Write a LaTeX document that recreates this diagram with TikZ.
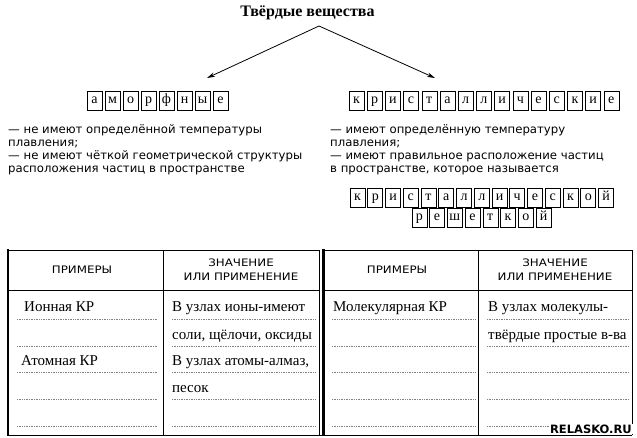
\documentclass[tikz,border=0pt]{standalone}
\usepackage{fontspec}
\setmainfont{Liberation Serif}
\newfontfamily\sansf{DejaVu Sans}
\newfontfamily\hdrf[FakeStretch=1.15]{DejaVu Sans}
\newfontfamily\wmf{DejaVu Sans}
\usetikzlibrary{arrows.meta}
\tikzset{
  lbox/.style={draw, line width=0.6pt, minimum width=15pt, minimum height=19pt, inner sep=0pt,
    text height=9pt, text depth=3pt, font=\fontsize{14}{14}\selectfont},
  body/.style={anchor=base west, inner sep=0pt, font=\sansf\fontsize{11.7}{13}\selectfont},
  hdr/.style={anchor=base, inner sep=0pt, font=\hdrf\fontsize{10.3}{12}\selectfont},
  cell/.style={anchor=base west, inner sep=0pt, font=\fontsize{15}{15}\selectfont},
  rule/.style={line width=0.7pt},
  heavy/.style={line width=2.4pt},
  dots/.style={line width=0.6pt, gray, dash pattern=on 0.7pt off 1pt},
  arr/.style={line width=0.8pt, -{Stealth[length=8pt,width=4.5pt]}}
}
\newcommand\letterrow[5]{%
  \foreach \l [count=\i] in {#5} {
    \node[lbox] (#1\i) at ({#2+(\i-1)*#4}, #3) {\l};
  }%
}
\begin{document}
\begin{tikzpicture}[x=1pt,y=-1pt]
\useasboundingbox (0,0) rectangle (637,438);

% title and arrows
\node[inner sep=0pt, font=\bfseries\fontsize{16}{16}\selectfont] (title) at (307.5,13) {Твёрдые вещества};
\coordinate (apex) at (319,26);
\coordinate (ltip) at (207,78);
\coordinate (rtip) at (435,78);
\draw[arr] (apex) -- (ltip);
\draw[arr] (apex) -- (rtip);

% letter rows
\letterrow{am}{94.5}{101}{18}{а,м,о,р,ф,н,ы,е}
\letterrow{kr}{356.5}{101}{18.2}{к,р,и,с,т,а,л,л,и,ч,е,с,к,и,е}
\letterrow{kl}{357.5}{198}{17.75}{к,р,и,с,т,а,л,л,и,ч,е,с,к,о,й}
\letterrow{rs}{419.3}{218}{17.75}{р,е,ш,е,т,к,о,й}

% descriptions
\node[body] (l1) at (8,134) {— не имеют определённой температуры};
\node[body] (l2) at (8,147) {плавления;};
\node[body] (l3) at (8,160) {— не имеют чёткой геометрической структуры};
\node[body] (l4) at (8,173) {расположения частиц в пространстве};
\node[body] (r1) at (330,134) {— имеют определённую температуру};
\node[body] (r2) at (330,147) {плавления;};
\node[body] (r3) at (330,160) {— имеют правильное расположение частиц};
\node[body] (r4) at (330,173) {в пространстве, которое называется};

% tables
\draw[rule] (8,250) -- (319,250);
\draw[rule] (323,250) -- (632,250);
\draw[rule] (8,290) -- (319,290);
\draw[rule] (323,290) -- (632,290);
\draw[rule] (8,435) -- (632,435);
\draw[rule] (163,250) -- (163,435);
\draw[rule] (478,250) -- (478,435);
\draw[rule] (319,250) -- (319,435);
\draw[rule] (632,250) -- (632,435);
\draw[heavy] (8,249) -- (8,436);
\draw[heavy] (323.5,249) -- (323.5,436);

\foreach \y in {319,346,372,399,426} {
  \draw[dots] (17,\y) -- (158,\y);
  \draw[dots] (172,\y) -- (315,\y);
  \draw[dots] (332,\y) -- (475,\y);
  \draw[dots] (487,\y) -- (629,\y);
}

% headers
\node[hdr] (h1) at (82,274) {ПРИМЕРЫ};
\node[hdr] (h2a) at (241,267) {ЗНАЧЕНИЕ};
\node[hdr] (h2b) at (241,281) {ИЛИ ПРИМЕНЕНИЕ};
\node[hdr] (h3) at (397,274) {ПРИМЕРЫ};
\node[hdr] (h4a) at (555,267) {ЗНАЧЕНИЕ};
\node[hdr] (h4b) at (555,281) {ИЛИ ПРИМЕНЕНИЕ};

% cells
\node[cell] (c1) at (24,312) {Ионная КР};
\node[cell] (c2) at (172,312) {В узлах ионы-имеют};
\node[cell] (c3) at (172,339) {соли, щёлочи, оксиды};
\node[cell] (c4) at (21,365) {Атомная КР};
\node[cell] (c5) at (172,365) {В узлах атомы-алмаз,};
\node[cell] (c6) at (172,392) {песок};
\node[cell] (c7) at (333,312) {Молекулярная КР};
\node[cell] (c8) at (488,312) {В узлах молекулы-};
\node[cell] (c9) at (488,339) {твёрдые простые в-ва};

% watermark
\node[inner sep=1pt, fill=white, font=\wmf\bfseries\fontsize{11.5}{11.5}\selectfont, anchor=east] (wm) at (633,429) {RELASKO.RU};
\end{tikzpicture}
\end{document}
